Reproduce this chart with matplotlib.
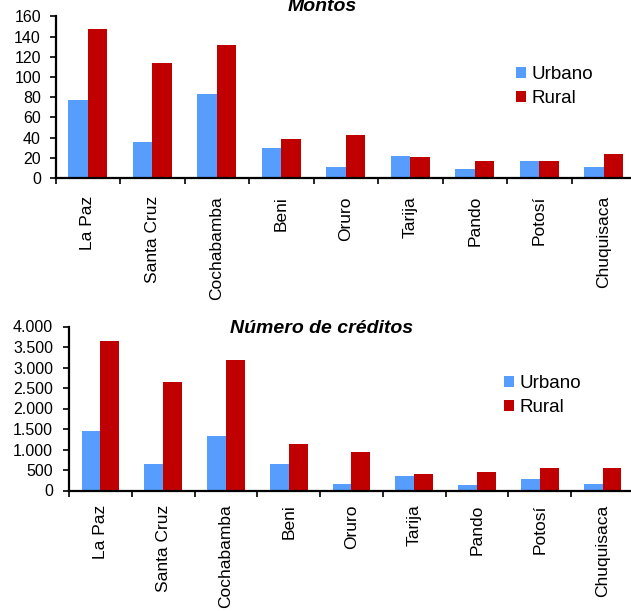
import numpy as np
import matplotlib
matplotlib.use("Agg")
import matplotlib.pyplot as plt

plt.rcParams["font.family"] = ["Liberation Sans", "DejaVu Sans"]

departamentos = ["La Paz", "Santa Cruz", "Cochabamba", "Beni", "Oruro",
                 "Tarija", "Pando", "Potosí", "Chuquisaca"]

montos_urbano = [77.5, 36, 83.5, 29.5, 11, 21.5, 9, 17, 11]
montos_rural = [147.5, 114, 131.5, 39, 42.5, 20.5, 17, 17, 23.5]

creditos_urbano = [1445, 635, 1330, 635, 170, 365, 135, 285, 170]
creditos_rural = [3640, 2640, 3185, 1135, 945, 405, 440, 560, 560]

montos_ticks = [0, 20, 40, 60, 80, 100, 120, 140, 160]
creditos_ticks = [0, 500, 1000, 1500, 2000, 2500, 3000, 3500, 4000]
creditos_ticklabels = ["0", "500", "1.000", "1.500", "2.000", "2.500",
                       "3.000", "3.500", "4.000"]

AZUL = "#579dfd"
ROJO = "#c00000"

W, H = 631, 611
fig = plt.figure(figsize=(W / 100, H / 100), dpi=100, facecolor="white")


def px_axes(left, top, right, bottom):
    # rectangle in pixel coords -> figure fraction
    return [left / W, 1 - bottom / H, (right - left) / W, (bottom - top) / H]


def panel(ax, urbano, rural, ticks, ticklabels, ymax, ypad, xpad):
    x = np.arange(len(departamentos))
    w = 0.3
    ax.bar(x + 0.5 - w / 2, urbano, w, color=AZUL, label="Urbano")
    ax.bar(x + 0.5 + w / 2, rural, w, color=ROJO, label="Rural")
    ax.set_xlim(0, len(departamentos))
    ax.set_ylim(0, ymax)

    for s in ["top", "right"]:
        ax.spines[s].set_visible(False)
    for s in ["left", "bottom"]:
        ax.spines[s].set_linewidth(1.6)
        ax.spines[s].set_color("black")

    ax.set_yticks(ticks)
    ax.set_yticklabels(ticklabels, fontsize=11.5)
    ax.tick_params(axis="y", direction="out", length=4.5, width=1.2, pad=ypad)

    # category boundaries carry the tick marks, centres carry the labels
    ax.set_xticks(np.arange(len(departamentos) + 1))
    ax.set_xticklabels([])
    ax.tick_params(axis="x", which="major", direction="out", length=4.5, width=1.2)
    ax.set_xticks(x + 0.5, minor=True)
    ax.set_xticklabels(departamentos, minor=True, rotation=90, fontsize=12.5,
                       va="top", ha="center")
    ax.tick_params(axis="x", which="minor", length=0, pad=xpad)


def leyenda(ax, x, y):
    ax.legend(loc="center left", bbox_to_anchor=(x / W, 1 - y / H),
              bbox_transform=fig.transFigure, frameon=False, fontsize=13.5,
              handlelength=0.55, handleheight=0.55, handletextpad=0.3,
              borderpad=0, borderaxespad=0, labelspacing=0.35)


# ── Montos ─────────────────────────────
ax1 = fig.add_axes(px_axes(55.5, 16.5, 636, 178))
panel(ax1, montos_urbano, montos_rural, montos_ticks,
      [str(t) for t in montos_ticks], 160, 6, 13)
leyenda(ax1, 516, 86.5)
fig.text(322 / W, 1 - 11 / H, "Montos", ha="center", va="baseline",
         fontsize=14, fontweight="bold", fontstyle="italic")

# ── Número de créditos ─────────────────
ax2 = fig.add_axes(px_axes(69, 326.5, 634, 490.5))
panel(ax2, creditos_urbano, creditos_rural, creditos_ticks,
      creditos_ticklabels, 4000, 7, 10)
leyenda(ax2, 504, 395.5)
fig.text(322 / W, 1 - 333 / H, "Número de créditos", ha="center",
         va="baseline", fontsize=14, fontweight="bold", fontstyle="italic")

fig.savefig("out.png", dpi=100, facecolor="white")
